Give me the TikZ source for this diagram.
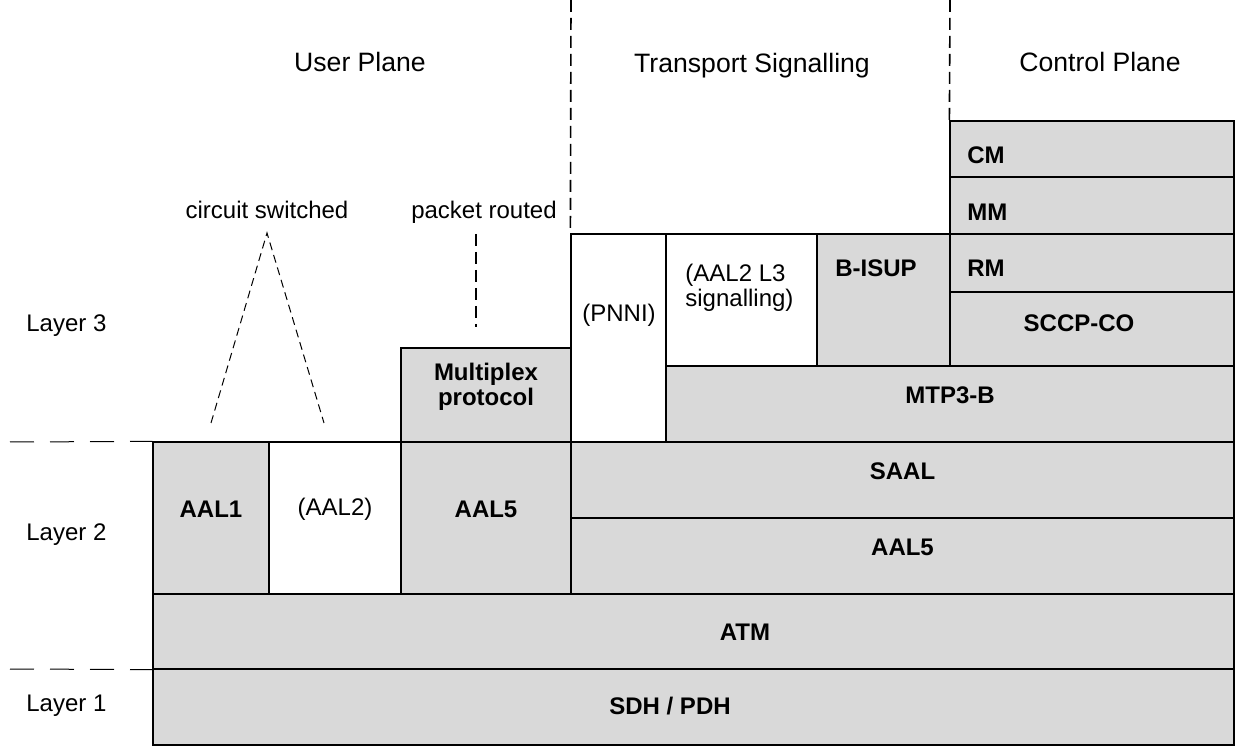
\documentclass[tikz,border=0pt]{standalone}
\usepackage{fontspec}
\setmainfont{Liberation Sans}
\usepackage{xcolor}
\usepackage{tikz}
\usetikzlibrary{positioning, fit}
\definecolor{boxgray}{HTML}{D9D9D9}

\begin{document}
\begin{tikzpicture}[
  x=0.5pt, y=-0.5pt,
  every node/.style={font=\fontsize{12}{12.5}\selectfont},
  gbox/.style={draw, line width=0.6pt, fill=boxgray, inner sep=0pt, align=center, font=\fontsize{12}{12.5}\selectfont\bfseries},
  wbox/.style={draw, line width=0.6pt, fill=white, inner sep=0pt, align=center},
  lbl/.style={inner sep=0pt, text height=8.6pt, text depth=0pt},
  blbl/.style={lbl, font=\fontsize{12}{12.5}\selectfont\bfseries},
  heading/.style={inner sep=0pt, text height=9.5pt, text depth=0pt, font=\fontsize{13.3}{14}\selectfont},
  plane/.style={line width=0.8pt, dash pattern=on 6pt off 3pt},
  layerline/.style={line width=0.5pt, dash pattern=on 12pt off 8pt},
  hint/.style={line width=0.5pt, dash pattern=on 4pt off 2.5pt}
]
\useasboundingbox (0,0) rectangle (1235,747);

% layer 1 and ATM
\node[gbox, fit={(153,669) (1234,745)}] (sdh) {};
\node[blbl] (sdhtext) at (670,706) {SDH / PDH};
\node[gbox, fit={(153,594) (1234,669)}] (atm) {};
\node[blbl] (atmtext) at (745,632) {ATM};

% user plane
\node[gbox, fit={(153,442) (269,594)}] (aal1) {AAL1};
\node[wbox, fit={(269,442) (401,594)}] (aal2) {(AAL2)};
\node[gbox, fit={(401,442) (571,594)}] (aal5u) {AAL5};
\node[gbox, fit={(401,348) (571,442)}] (mux) {Multiplex\\protocol};

% transport signalling and control plane
\node[gbox, fit={(571,518) (1234,594)}] (aal5t) {AAL5};
\node[gbox, fit={(571,442) (1234,518)}] (saal) {SAAL};
\node[wbox, fit={(571,234) (666,442)}] (pnni) {};
\node[lbl] (pnnitext) at (619,313) {(PNNI)};
\node[gbox, fit={(666,366) (1234,442)}] (mtp) {MTP3-B};
\node[wbox, fit={(666,234) (817,366)}] (aal2sig) {};
\node[inner sep=0pt, align=left, anchor=west] (aal2sigtext) at (685,288) {(AAL2 L3\\signalling)};
\node[gbox, fit={(817,234) (950,366)}] (bisup) {};
\node[blbl] (bisuptext) at (876,268) {B-ISUP};
\node[gbox, fit={(950,292) (1234,366)}] (sccp) {};
\node[blbl] (sccptext) at (1079,323) {SCCP-CO};
\node[gbox, fit={(950,234) (1234,292)}] (rm) {};
\node[gbox, fit={(950,177) (1234,234)}] (mm) {};
\node[gbox, fit={(950,121) (1234,177)}] (cm) {};
\node[blbl, anchor=west] (rmtext) at (967,268) {RM};
\node[blbl, anchor=west] (mmtext) at (967,212) {MM};
\node[blbl, anchor=west] (cmtext) at (967,155) {CM};

% plane headings
\node[heading] (userplane) at (360,62) {User Plane};
\node[heading] (transport) at (752,63) {Transport Signalling};
\node[heading] (control) at (1100,62) {Control Plane};
\coordinate (sep1top) at (571,0);
\coordinate (sep2top) at (950,0);
\draw[plane] (sep1top) -- (pnni.north west);
\draw[plane] (sep2top) -- (cm.north west);

% layers
\node[lbl, anchor=west] (layer3) at (26,323) {Layer 3};
\node[lbl, anchor=west] (layer2) at (26,532) {Layer 2};
\node[lbl, anchor=west] (layer1) at (26,703) {Layer 1};
\coordinate (l23start) at (10,442);
\coordinate (l12start) at (10,669);
\draw[layerline] (l23start) -- (aal1.north west);
\draw[layerline] (l12start) -- (atm.south west);

% circuit switched / packet routed
\node[lbl] (circuit) at (267,210) {circuit switched};
\node[lbl] (packet) at (484,210) {packet routed};
\coordinate (csapex) at (267,233);
\coordinate (csleft) at (211,423);
\coordinate (csright) at (324,423);
\draw[hint] (csleft) -- (csapex) -- (csright);
\coordinate (prtop) at (476,234);
\coordinate (prbot) at (476,327);
\draw[plane] (prtop) -- (prbot);
\end{tikzpicture}
\end{document}
